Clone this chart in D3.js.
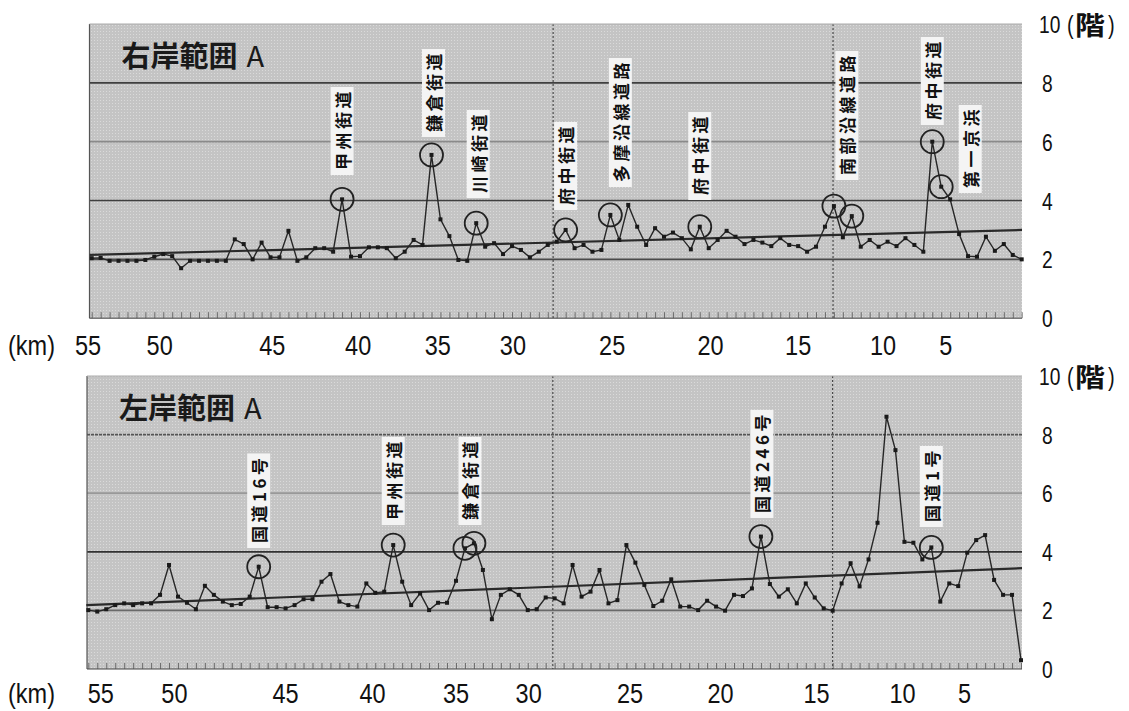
<!DOCTYPE html>
<html><head><meta charset="utf-8">
<script src="https://cdn.jsdelivr.net/npm/d3@7"></script>
<style>body{margin:0;background:#fff} svg{display:block}</style>
</head><body><svg id="c" width="1129" height="711"></svg>
<script>
// ---------- data ----------
const rightBankValues = [2.04,2.05,1.95,1.95,1.95,1.95,1.98,2.09,2.18,2.11,1.70,1.95,1.95,1.95,1.95,1.95,2.68,2.52,2.00,2.57,
2.07,2.07,2.97,1.95,2.07,2.38,2.38,2.26,4.04,2.09,2.11,2.41,2.41,2.38,2.04,2.26,2.66,2.49,5.55,3.36,
2.79,1.98,1.95,3.23,2.43,2.55,2.18,2.45,2.32,2.07,2.26,2.49,2.60,3.00,2.38,2.49,2.26,2.32,3.51,2.66,
3.85,3.11,2.49,3.06,2.77,2.91,2.72,2.34,3.11,2.38,2.66,2.97,2.77,2.52,2.66,2.57,2.45,2.72,2.49,2.45,
2.26,2.43,3.11,3.81,2.75,3.47,2.43,2.66,2.43,2.60,2.45,2.72,2.49,2.26,6.00,4.47,4.04,2.86,2.11,2.09,
2.77,2.29,2.52,2.15,2.00];
const leftBankValues = [2.01,1.96,2.04,2.18,2.24,2.18,2.24,2.24,2.53,3.55,2.47,2.26,2.04,2.84,2.53,2.30,2.18,2.22,2.47,3.49,
2.11,2.11,2.07,2.18,2.38,2.38,2.98,3.24,2.30,2.18,2.13,2.92,2.60,2.64,4.23,2.98,2.18,2.58,2.01,2.26,
2.26,3.01,4.12,4.29,3.38,1.70,2.53,2.72,2.53,2.01,2.04,2.44,2.41,2.24,3.55,2.47,2.64,3.38,2.24,2.35,
4.23,3.63,2.87,2.15,2.33,3.06,2.13,2.13,2.01,2.33,2.13,1.99,2.53,2.49,2.75,4.52,2.90,2.47,2.72,2.24,
2.92,2.44,2.07,1.99,2.92,3.61,2.82,3.74,4.99,8.61,7.47,4.34,4.31,3.74,4.15,2.30,2.92,2.83,3.97,4.40,
4.57,3.04,2.53,2.53,0.30];
const rightBankTrend = [2.15, 3.00];
const leftBankTrend = [2.18, 3.44];
const kmLabels = ["55","50","45","40","35","30","25","20","15","10","5"];
const rightBankKmAt = [-0.4,7.6,20.2,29.8,38.7,47.1,58.2,69.2,79.0,88.5,95.5];
const leftBankKmAt  = [1.4,9.6,22.0,31.7,41.0,49.1,60.4,70.5,81.2,90.8,97.7];
const yTicks = [0,2,4,6,8];
const rightBankRoads = [
  {i:28, name:"甲州街道"}, {i:38, name:"鎌倉街道"}, {i:43, name:"川崎街道"},
  {i:53, name:"府中街道"}, {i:58, name:"多摩沿線道路"}, {i:68, name:"府中街道"},
  {i:83, name:"南部沿線道路"}, {i:85, name:""}, {i:94, name:"府中街道"}, {i:95, name:"第一京浜"}];
const leftBankRoads = [
  {i:19, name:"国道16号"}, {i:34, name:"甲州街道"}, {i:42, name:"鎌倉街道"}, {i:43, name:""},
  {i:75, name:"国道246号"}, {i:94, name:"国道1号"}];
const rightBankVLines = [51.6, 82.9];
const leftBankVLines = [51.8, 83.0];

// ---------- layout (pixels) ----------
const rightLabelLayout = [
  {dx:0, bottom:175}, {dx:2, bottom:137}, {dx:2, bottom:198}, {dx:0, bottom:210},
  {dx:10, bottom:187}, {dx:0, bottom:200}, {dx:13, bottom:180}, null, {dx:0, bottom:125}, {dx:29, bottom:193}];
const leftLabelLayout = [
  {dx:0, bottom:548}, {dx:0, bottom:525}, {dx:5, bottom:525}, null,
  {dx:1, bottom:518}, {dx:0, bottom:527}];

const svg = d3.select("#c");
const defs = svg.append("defs");
const pat = defs.append("pattern").attr("id","tex").attr("width",3).attr("height",3)
  .attr("patternUnits","userSpaceOnUse");
pat.append("rect").attr("width",3).attr("height",3).attr("fill","#c4c4c4");
pat.append("rect").attr("x",1).attr("y",1).attr("width",1).attr("height",1).attr("fill","#dadada");

const NUM_FONT = "'Liberation Sans',Arial,sans-serif";
const JP_FONT = "'Noto Sans CJK JP','Noto Sans',sans-serif";

function condensed(sel, x, y, size, sx){
  return sel.attr("transform",`translate(${x},${y}) scale(${sx},1)`)
    .attr("font-family",NUM_FONT).attr("font-size",size).attr("fill","#111");
}

function panel(cfg){
  const {values, trend, kmAt, roads, layout, vlines, title, px0, px1, left, right, top, bottom, kmY} = cfg;
  const x = d3.scaleLinear().domain([0, values.length-1]).range([px0, px1]);
  const y = d3.scaleLinear().domain([0,10]).range([bottom, top]);
  const g = svg.append("g");
  g.append("rect").attr("x",left).attr("y",top).attr("width",right-left).attr("height",bottom-top)
    .attr("fill","url(#tex)");
  const gridCol = cfg.gridCol;
  g.selectAll(".hg").data([2,4,6,8]).enter().append("line")
    .attr("x1",left).attr("x2",right).attr("y1",d=>y(d)).attr("y2",d=>y(d))
    .attr("stroke",d=>gridCol[d]).attr("stroke-width",1.7)
    .attr("stroke-dasharray",d=>cfg.gridDash[d]||null);
  g.selectAll(".vg").data(vlines).enter().append("line")
    .attr("x1",d=>x(d)).attr("x2",d=>x(d)).attr("y1",top).attr("y2",bottom)
    .attr("stroke","#333").attr("stroke-width",1).attr("stroke-dasharray","2,2");
  g.append("line").attr("x1",left).attr("x2",left).attr("y1",top).attr("y2",bottom)
    .attr("stroke","#555").attr("stroke-width",1.2);
  g.append("line").attr("x1",left).attr("x2",right).attr("y1",top).attr("y2",top)
    .attr("stroke","#aaa").attr("stroke-width",1);
  const ax = d3.axisBottom(x).tickValues(d3.range(values.length)).tickSize(-6).tickFormat("");
  const axg = g.append("g").attr("transform",`translate(0,${bottom})`).call(ax);
  axg.select(".domain").attr("stroke","#444").attr("d",`M${left},0H${right}`);
  axg.selectAll(".tick line").attr("stroke","#555").attr("stroke-width",0.8);
  // km labels
  g.selectAll(".km").data(kmLabels).enter().append("text")
    .each(function(d,i){ condensed(d3.select(this), x(kmAt[i]), kmY, 28, 0.84); })
    .attr("text-anchor","middle").text(d=>d);
  condensed(g.append("text"), 8, kmY, 28, 0.84).text("(km)");
  // y tick labels on right
  g.selectAll(".yt").data(yTicks).enter().append("text")
    .each(function(d){ condensed(d3.select(this), 1042, y(d)+9, 24, 0.8); })
    .text(d=>d);
  condensed(g.append("text"), 1039, y(10)+9, 24, 0.8).text("10");
  condensed(g.append("text"), 1067, y(10)+10, 25, 0.8).text("(");
  g.append("text").attr("transform",`translate(1075,${y(10)+11}) scale(1.15,1)`)
    .attr("font-family",JP_FONT).attr("font-size",26)
    .attr("font-weight","bold").attr("fill","#111").text("階");
  condensed(g.append("text"), 1108, y(10)+10, 25, 0.8).text(")");
  // trend line
  g.append("line").attr("x1",x(0)-2).attr("x2",right).attr("y1",y(trend[0])).attr("y2",y(trend[1]))
    .attr("stroke","#2a2a2a").attr("stroke-width",2.2);
  // data line
  const line = d3.line().x((d,i)=>x(i)).y(d=>y(d));
  g.append("path").datum(values).attr("d",line).attr("fill","none")
    .attr("stroke","#262626").attr("stroke-width",1.4);
  g.selectAll(".pt").data(values).enter().append("rect")
    .attr("x",(d,i)=>x(i)-2).attr("y",d=>y(d)-2).attr("width",4).attr("height",4).attr("fill","#1a1a1a");
  // title
  const tt = g.append("text").attr("x",left+32).attr("y",top+43).attr("font-family",JP_FONT).attr("font-size",29)
    .attr("font-weight","bold").attr("fill","#1a1a1a");
  tt.append("tspan").text(title[0]);
  tt.append("tspan").attr("dx",9).attr("font-weight","normal").text(title[1]);
  // circles
  g.selectAll(".cir").data(roads).enter().append("circle")
    .attr("cx",d=>x(d.i)).attr("cy",d=>y(values[d.i])).attr("r",11.5)
    .attr("fill","none").attr("stroke","#222").attr("stroke-width",1.8);
  // labels
  roads.forEach((d,k)=>{
    const L = layout[k];
    if(!L || !d.name) return;
    const lg = g.append("g").attr("transform",`translate(${x(d.i)+L.dx},${L.bottom})`);
    const rect = lg.append("rect").attr("fill","#f4f4f4");
    const t = lg.append("text").attr("transform","rotate(-90)")
      .attr("font-family",JP_FONT).attr("font-size",17).attr("font-weight","bold")
      .attr("letter-spacing",3.5).attr("fill","#111").attr("dominant-baseline","central")
      .text(d.name);
    const len = t.node().getComputedTextLength();
    const h = len + 6, w = 23;
    t.attr("x", 5).attr("y", 0);
    rect.attr("x",-w/2).attr("y",-h).attr("width",w).attr("height",h);
  });
}

panel({values:rightBankValues, trend:rightBankTrend, kmAt:rightBankKmAt, roads:rightBankRoads,
  layout:rightLabelLayout, vlines:rightBankVLines, title:["右岸範囲","A"],
  px0:91.7, px1:1021.7, left:89.5, right:1022, top:24, bottom:318.2, kmY:355,
  gridCol:{2:"#4a4a4a",4:"#3f3f3f",6:"#8a8a8a",8:"#3f3f3f"}, gridDash:{}});
panel({values:leftBankValues, trend:leftBankTrend, kmAt:leftBankKmAt, roads:leftBankRoads,
  layout:leftLabelLayout, vlines:leftBankVLines, title:["左岸範囲","A"],
  px0:88.3, px1:1021, left:87, right:1022, top:376, bottom:669, kmY:703,
  gridCol:{2:"#6a6a6a",4:"#333",6:"#999",8:"#555"}, gridDash:{8:"3,1"}});
</script></body></html>
